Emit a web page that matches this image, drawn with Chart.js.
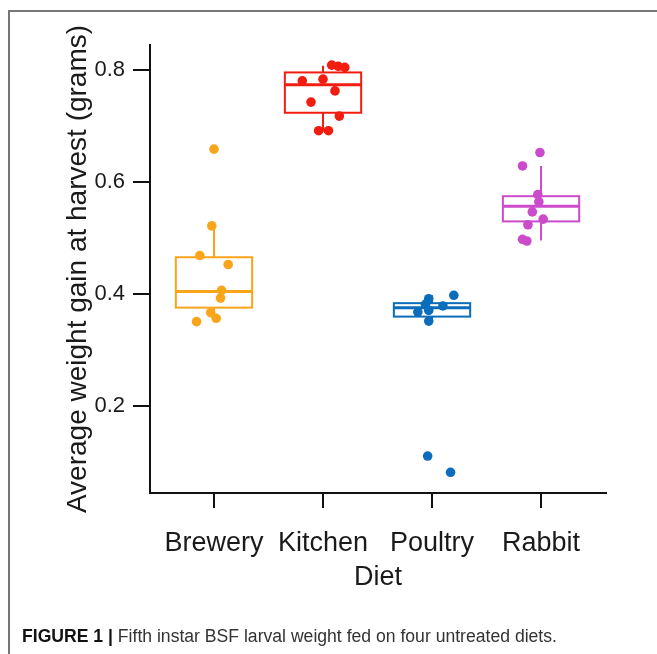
<!DOCTYPE html>
<html>
<head>
<meta charset="utf-8">
<script src="https://cdn.jsdelivr.net/npm/chart.js@4/dist/chart.umd.min.js"></script>
<style>
  html, body { margin: 0; padding: 0; background: #fff; }
  #wrap { position: relative; width: 657px; height: 654px; overflow: hidden; }
  #frame { position: absolute; left: 8px; top: 10px; width: 700px; height: 700px;
           border-top: 2px solid #777; border-left: 2px solid #777; }
  #chart { position: absolute; left: 0; top: 0; }
  #caption { position: absolute; left: 22px; top: 626px; font: 17.6px "Liberation Sans", Arial, sans-serif;
             color: #333; white-space: nowrap; line-height: 20px; }
  #caption b { color: #111; }
</style>
</head>
<body>
<div id="wrap">
  <div id="frame"></div>
  <canvas id="chart" width="657" height="654"></canvas>
  <div id="caption"><b>FIGURE 1 |</b> Fifth instar BSF larval weight fed on four untreated diets.</div>
</div>
<script>
// Diets and their colours
const diets = ['Brewery', 'Kitchen', 'Poultry', 'Rabbit'];
const colors = ['#F9A51B', '#F21C10', '#0B6DBB', '#CB4BCB'];

// Per-larva-batch weight gain (g) and horizontal jitter (category units)
const breweryValues = [0.659, 0.522, 0.469, 0.453, 0.407, 0.393, 0.367, 0.357, 0.351];
const breweryJitter = [0.00, -0.02, -0.13, 0.13, 0.07, 0.06, -0.03, 0.02, -0.16];
const kitchenValues = [0.809, 0.807, 0.805, 0.784, 0.781, 0.763, 0.743, 0.718, 0.692, 0.692];
const kitchenJitter = [0.08, 0.14, 0.20, 0.00, -0.19, 0.11, -0.11, 0.15, -0.04, 0.05];
const poultryValues = [0.398, 0.392, 0.382, 0.379, 0.371, 0.368, 0.352, 0.111, 0.082];
const poultryJitter = [0.20, -0.03, -0.06, 0.10, -0.03, -0.13, -0.03, -0.04, 0.17];
const rabbitValues = [0.653, 0.629, 0.578, 0.565, 0.547, 0.534, 0.524, 0.498, 0.495];
const rabbitJitter = [-0.01, -0.17, -0.03, -0.02, -0.08, 0.02, -0.12, -0.17, -0.13];

// Box summaries per diet
const q1Values      = [0.376, 0.724, 0.360, 0.530];
const medianValues  = [0.405, 0.774, 0.376, 0.557];
const q3Values      = [0.466, 0.796, 0.384, 0.575];
const whiskerLow    = [0.351, 0.690, 0.352, 0.496];
const whiskerHigh   = [0.522, 0.808, 0.398, 0.629];

// Axis ticks
const yTicks = [0.2, 0.4, 0.6, 0.8];
const xTicks = [1, 2, 3, 4];

const seriesValues = [breweryValues, kitchenValues, poultryValues, rabbitValues];
const seriesJitter = [breweryJitter, kitchenJitter, poultryJitter, rabbitJitter];

const datasets = diets.map((name, i) => ({
  label: name,
  data: seriesValues[i].map((v, j) => ({ x: i + 1 + seriesJitter[i][j], y: v })),
  backgroundColor: colors[i],
  borderWidth: 0,
  pointRadius: 4.8,
  pointHoverRadius: 4.8
}));

const BOX_HALF = 0.35;

// Draws box, median and whiskers for each diet beneath the points
const boxPlugin = {
  id: 'boxes',
  beforeDatasetsDraw(chart) {
    const { ctx, scales: { x, y } } = chart;
    ctx.save();
    diets.forEach((d, i) => {
      const c = i + 1;
      const xl = x.getPixelForValue(c - BOX_HALF);
      const xr = x.getPixelForValue(c + BOX_HALF);
      const xc = x.getPixelForValue(c);
      const yq1 = y.getPixelForValue(q1Values[i]);
      const yq3 = y.getPixelForValue(q3Values[i]);
      const ym = y.getPixelForValue(medianValues[i]);
      const ylo = y.getPixelForValue(whiskerLow[i]);
      const yhi = y.getPixelForValue(whiskerHigh[i]);
      ctx.strokeStyle = colors[i];
      ctx.lineWidth = 2;
      ctx.beginPath();
      ctx.moveTo(xc, yq3); ctx.lineTo(xc, yhi);
      ctx.moveTo(xc, yq1); ctx.lineTo(xc, ylo);
      ctx.stroke();
      ctx.strokeRect(xl, yq3, xr - xl, yq1 - yq3);
      ctx.lineWidth = 3;
      ctx.beginPath();
      ctx.moveTo(xl, ym); ctx.lineTo(xr, ym);
      ctx.stroke();
    });
    ctx.restore();
  }
};

const FONT = '"Liberation Sans", Arial, sans-serif';

new Chart(document.getElementById('chart'), {
  type: 'scatter',
  data: { datasets },
  plugins: [boxPlugin],
  options: {
    responsive: false,
    animation: false,
    devicePixelRatio: 1,
    layout: { padding: { top: 45, right: 51, left: 0, bottom: 60 } },
    plugins: { legend: { display: false }, tooltip: { enabled: false } },
    scales: {
      x: {
        type: 'linear',
        min: 0.413,
        max: 4.596,
        afterFit(scale) { scale.height = 101; },
        afterBuildTicks(scale) { scale.ticks = xTicks.map(v => ({ value: v })); },
        ticks: {
          color: '#1a1a1a',
          font: { family: FONT, size: 27 },
          padding: 19,
          maxRotation: 0,
          autoSkip: false,
          callback: (v) => diets[v - 1]
        },
        grid: { drawOnChartArea: false, drawTicks: true, tickLength: 15, color: '#111', lineWidth: 2 },
        border: { display: true, color: '#111', width: 2 },
        title: { display: true, text: 'Diet', color: '#1a1a1a', font: { family: FONT, size: 27 }, padding: 0 }
      },
      y: {
        type: 'linear',
        min: 0.045,
        max: 0.845,
        afterFit(scale) { scale.width = 150; },
        afterBuildTicks(scale) { scale.ticks = yTicks.map(v => ({ value: v })); },
        ticks: {
          color: '#1a1a1a',
          font: { family: FONT, size: 22 },
          padding: 8,
          callback: (v) => v.toFixed(1)
        },
        grid: { drawOnChartArea: false, drawTicks: true, tickLength: 17, color: '#111', lineWidth: 2 },
        border: { display: true, color: '#111', width: 2 },
        title: { display: true, text: 'Average weight gain at harvest (grams)', color: '#1a1a1a',
                 font: { family: FONT, size: 28 }, padding: { top: 61, bottom: 0 } }
      }
    }
  }
});
</script>
</body>
</html>
